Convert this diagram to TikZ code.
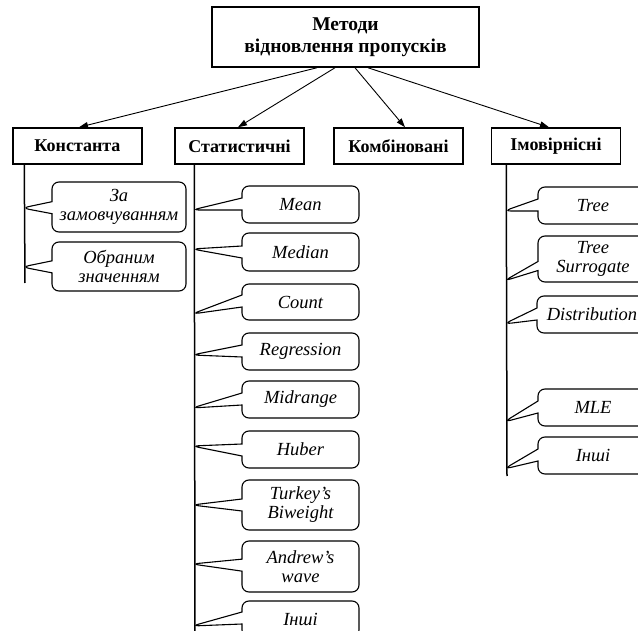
\documentclass[tikz,border=0pt]{standalone}
\usepackage{fontspec}
\setmainfont{Liberation Serif}
\usetikzlibrary{shapes.callouts}
\usetikzlibrary{arrows.meta}

\begin{document}
\begin{tikzpicture}[x=1pt,y=-1pt,
		>={Triangle[length=9pt,width=6pt]},
		head/.style={draw=black, line width=1.5pt, inner sep=0pt, minimum width=129pt, minimum height=36pt, font=\bfseries\fontsize{18}{22}\selectfont},
		leaf/.style={shape=rectangle callout, draw=black, line width=1.1pt, rounded corners=7pt, inner sep=0pt, align=center, callout pointer width=12pt, font=\itshape\fontsize{18.5}{19}\selectfont},
		trunk/.style={line width=1.5pt}]
			\useasboundingbox (0,0) rectangle (638,631);

			\node[head, minimum width=267pt, minimum height=60pt, align=center, font=\bfseries\fontsize{19.5}{22}\selectfont] (top) at (345.5,37) {Методи\\відновлення пропусків};
			\node[head] (konst) at (77.5,146) {Константа};
			\node[head] (stat) at (239.5,146) {Статистичні};
			\node[head] (komb) at (398.5,146) {Комбіновані};
			\node[head] (imov) at (556,146) {Імовірнісні};

			\coordinate (konstEnd) at (25,283);
			\coordinate (statEnd) at (195,640);
			\coordinate (imovEnd) at (507,476);

			\node[leaf, minimum width=134pt, minimum height=50pt, callout absolute pointer={(22,208)}] (zam) at (119,207) {За\\замовчуванням};
			\node[leaf, minimum width=134pt, minimum height=49pt, callout absolute pointer={(22,267)}] (obr) at (119,266.5) {Обраним\\значенням};

			\node[leaf, minimum width=117pt, minimum height=37pt, callout absolute pointer={(192,210)}] (mean) at (300.5,204.5) {Mean};
			\node[leaf, minimum width=117pt, minimum height=38pt, callout absolute pointer={(192,249)}] (median) at (300.5,252) {Median};
			\node[leaf, minimum width=117pt, minimum height=36pt, callout absolute pointer={(192,314)}] (count) at (300.5,302) {Count};
			\node[leaf, minimum width=117pt, minimum height=37pt, callout absolute pointer={(192,355)}] (regr) at (300.5,351.5) {Regression};
			\node[leaf, minimum width=117pt, minimum height=37pt, callout absolute pointer={(192,408)}] (midr) at (300.5,399.5) {Midrange};
			\node[leaf, minimum width=117pt, minimum height=37pt, callout absolute pointer={(192,446)}] (huber) at (300.5,449.5) {Huber};
			\node[leaf, minimum width=117pt, minimum height=50pt, callout absolute pointer={(192,505)}] (turkey) at (300.5,505) {Turkey’s\\Biweight};
			\node[leaf, minimum width=117pt, minimum height=51pt, callout absolute pointer={(192,564)}] (andrew) at (300.5,566.5) {Andrew’s\\wave};
			\node[leaf, minimum width=117pt, minimum height=36pt, callout absolute pointer={(192,626)}] (statInshi) at (300.5,619) {Інші};

			\node[leaf, minimum width=110pt, minimum height=37pt, callout absolute pointer={(504,211)}] (tree) at (593,205.5) {Tree};
			\node[leaf, minimum width=110pt, minimum height=46pt, callout pointer width=9pt, callout absolute pointer={(504,281)}] (surr) at (593,259) {Tree\\Surrogate};
			\node[leaf, minimum width=110pt, minimum height=37pt, callout absolute pointer={(504,324)}] (distr) at (592,314.5) {Distribution};
			\node[leaf, minimum width=110pt, minimum height=37pt, callout absolute pointer={(504,422)}] (mle) at (593,407.5) {MLE};
			\node[leaf, minimum width=110pt, minimum height=37pt, callout absolute pointer={(504,469)}] (imovInshi) at (593,455.5) {Інші};

			%% arrows
			\draw[->, line width=0.9pt] ([xshift=-28.5pt]top.south) -- ([xshift=1.5pt]konst.north);
			\draw[->, line width=0.9pt] ([xshift=-10.5pt]top.south) -- ([xshift=-1.5pt]stat.north);
			\draw[->, line width=0.9pt] ([xshift=9.5pt]top.south) -- ([xshift=6.5pt]komb.north);
			\draw[->, line width=0.9pt] ([xshift=22.5pt]top.south) -- ([xshift=-7pt]imov.north);

			%% lines
			\draw[trunk] ([xshift=12pt]konst.south west) -- (konstEnd);
			\draw[trunk] ([xshift=20pt]stat.south west) -- (statEnd);
			\draw[trunk] ([xshift=15.5pt]imov.south west) -- (imovEnd);
		\end{tikzpicture}
\end{document}
